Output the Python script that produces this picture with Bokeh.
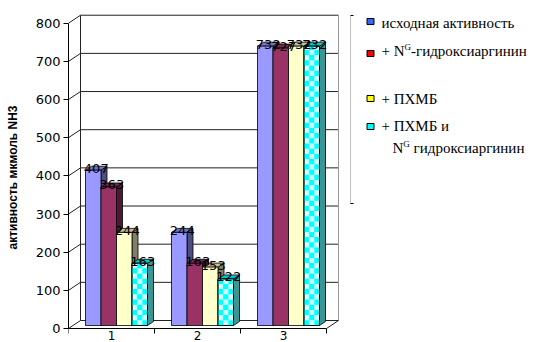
import math
from bokeh.plotting import figure
from bokeh.models import FixedTicker, Range1d
from bokeh.layouts import row
from bokeh.embed import file_html
from bokeh.resources import INLINE

# ---- data -------------------------------------------------------------
categories = ["1", "2", "3"]
initial_activity = [407, 244, 732]          # исходная активность
with_hydroxyarginine = [363, 163, 727]      # + NG-гидроксиаргинин
with_pcmb = [244, 153, 732]                 # + ПХМБ
with_pcmb_hydroxyarginine = [163, 122, 732] # + ПХМБ и NG гидроксиаргинин
y_ticks = [0, 100, 200, 300, 400, 500, 600, 700, 800]
y_axis_title = "активность мкмоль NH3"

series = [initial_activity, with_hydroxyarginine, with_pcmb, with_pcmb_hydroxyarginine]

# legend lines: (main text, superscript, text after superscript)
legend_lines = [
    [("исходная активность", "", "")],
    [("+ N", "G", "-гидроксиаргинин")],
    [("+ ПХМБ", "", "")],
    [("+ ПХМБ и", "", ""), ("N", "G", "гидроксиаргинин")],
]

# ---- styling -------------------------------------------------------------
front = ["#9999ff", "#993366", "#ffffcc", "#ccffff"]
top_face = ["#7373c0", "#73264d", "#c0c099", "#00c8c8"]
side_face = ["#4d4d80", "#4d1a33", "#80806a", "#3d9494"]
legend_swatch = ["#3366ff", "#ff0000", "#ffff00", "#00ffff"]
checker_color = "#00ffff"

NUM_FONT = "DejaVu Sans"
SERIF = "Liberation Serif"

# pixel scale of the plot frame
PX_X = 86.0       # px per category
PX_Y = 0.3816     # px per unit of activity
FRAME_W = 277
ZERO_PX, TOP_PX, H = 328, 12, 342   # canvas rows of value 0, frame top, canvas height

WALL_DX, WALL_DY = 12 / PX_X, 8 / PX_Y   # depth of the 3-D walls
BAR_W = 15.5 / PX_X
BAR_OX, BAR_OY = 5 / PX_X, 3 / PX_Y      # bars sit mid-depth
BAR_DX, BAR_DY = 6 / PX_X, 4 / PX_Y      # bar depth
CELL_PX = 5.2
TICK = 5 / PX_Y

p = figure(width=350, height=H,
           x_range=Range1d(0.5, 0.5 + FRAME_W / PX_X),
           y_range=Range1d(-(H - ZERO_PX) / PX_Y, (ZERO_PX - TOP_PX) / PX_Y),
           output_backend="svg", toolbar_location=None,
           x_axis_location=None,
           min_border_left=68, min_border_right=350 - 68 - FRAME_W,
           min_border_top=TOP_PX, min_border_bottom=0)
p.grid.visible = False
p.outline_line_color = None
p.background_fill_color = "white"
p.border_fill_color = "white"

# y axis (front edge)
ya = p.yaxis[0]
ya.ticker = FixedTicker(ticks=y_ticks)
ya.bounds = (y_ticks[0], y_ticks[-1])
ya.major_tick_out = 5
ya.major_tick_in = 0
ya.minor_tick_out = 0
ya.minor_tick_in = 0
ya.major_label_standoff = 3
ya.major_label_text_font = NUM_FONT
ya.major_label_text_font_size = "13px"
ya.major_label_text_color = "black"
ya.axis_line_color = "black"
ya.major_tick_line_color = "black"
ya.axis_label = y_axis_title
ya.axis_label_text_font = "Liberation Sans"
ya.axis_label_text_font_style = "bold"
ya.axis_label_text_font_size = "12px"
ya.axis_label_text_color = "black"
ya.axis_label_standoff = 13

# ---- category axis along the front floor edge --------------------------------
n_cat = len(categories)
x_left, x_right = 0.5, n_cat + 0.5
bounds = [i + 0.5 for i in range(n_cat + 1)]
p.segment(x0=[x_left] + bounds, y0=[0] + [0] * len(bounds),
          x1=[x_right] + bounds, y1=[0] + [-TICK] * len(bounds),
          line_color="black", line_width=1)
p.text(x=[i + 1 for i in range(n_cat)], y=[-(6.5 / PX_Y)] * n_cat, text=categories,
       text_align="center", text_baseline="middle",
       text_font={"value": NUM_FONT}, text_font_size="12px", text_color="black")

# ---- walls: back-wall grid, side-wall diagonals ----------------------------
p.segment(x0=[x_left + WALL_DX] * len(y_ticks), y0=[t + WALL_DY for t in y_ticks],
          x1=[x_right + WALL_DX] * len(y_ticks), y1=[t + WALL_DY for t in y_ticks],
          line_color="#222222", line_width=1)
p.segment(x0=[x_left] * len(y_ticks), y0=y_ticks,
          x1=[x_left + WALL_DX] * len(y_ticks), y1=[t + WALL_DY for t in y_ticks],
          line_color="#222222", line_width=1)
p.segment(x0=[x_left + WALL_DX, x_right + WALL_DX, x_right],
          y0=[y_ticks[0] + WALL_DY, y_ticks[0] + WALL_DY, y_ticks[0]],
          x1=[x_left + WALL_DX, x_right + WALL_DX, x_right + WALL_DX],
          y1=[y_ticks[-1] + WALL_DY, y_ticks[-1] + WALL_DY, y_ticks[0] + WALL_DY],
          line_color=["#222222", "#999999", "#222222"], line_width=1)

# ---- 3-D bars ---------------------------------------------------------------
def bar_left(g, s):
    return (g + 1) - 2 * BAR_W + s * BAR_W + BAR_OX

xs, ys, fills = [], [], []
for g in range(n_cat):
    for s, vals in enumerate(series):
        v = vals[g]
        x0 = bar_left(g, s)
        x1 = x0 + BAR_W
        b, t = BAR_OY, v + BAR_OY
        # side face
        xs.append([x1, x1 + BAR_DX, x1 + BAR_DX, x1])
        ys.append([b, b + BAR_DY, t + BAR_DY, t])
        fills.append(side_face[s])
        # top face
        xs.append([x0, x0 + BAR_DX, x1 + BAR_DX, x1])
        ys.append([t, t + BAR_DY, t + BAR_DY, t])
        fills.append(top_face[s])
        # front face
        xs.append([x0, x1, x1, x0])
        ys.append([b, b, t, t])
        fills.append(front[s])
p.patches(xs=xs, ys=ys, fill_color=fills, line_color="black", line_width=0.8)

# checker pattern on the last series
cl, cr, cb, ct = [], [], [], []
cell_w, cell_h = BAR_W / 3, CELL_PX / PX_Y
for g, v in enumerate(with_pcmb_hydroxyarginine):
    x0 = bar_left(g, 3)
    nrow = int(math.ceil(v / cell_h))
    for r in range(nrow):
        for c in range(3):
            if (r + c) % 2 == 0:
                cl.append(x0 + c * cell_w)
                cr.append(x0 + (c + 1) * cell_w)
                cb.append(BAR_OY + r * cell_h)
                ct.append(BAR_OY + min((r + 1) * cell_h, v))
p.quad(left=cl, right=cr, bottom=cb, top=ct, fill_color=checker_color, line_color=None)
p.quad(left=[bar_left(g, 3) for g in range(n_cat)],
       right=[bar_left(g, 3) + BAR_W for g in range(n_cat)],
       bottom=[BAR_OY] * n_cat,
       top=[v + BAR_OY for v in with_pcmb_hydroxyarginine],
       fill_color=None, line_color="black", line_width=0.8)

# value labels on the bar tops
lx, ly, lt = [], [], []
for g in range(n_cat):
    for s, vals in enumerate(series):
        lx.append(bar_left(g, s) + (BAR_W + BAR_DX) / 2)
        ly.append(vals[g] + BAR_OY + BAR_DY / 2)
        lt.append(str(vals[g]))
p.text(x=lx, y=ly, text=lt, text_align="center", text_baseline="middle",
       text_font={"value": NUM_FONT}, text_font_size="13px", text_color="black")

# ---- legend panel: its frame shares the chart's top/bottom, ranges in canvas px ----
lg = figure(width=191, height=H, x_range=Range1d(350, 541), y_range=Range1d(H, TOP_PX),
            output_backend="svg", toolbar_location=None,
            x_axis_location=None, y_axis_location=None,
            min_border=0, min_border_left=0, min_border_right=0,
            min_border_top=TOP_PX, min_border_bottom=0)
lg.grid.visible = False
lg.outline_line_color = None
lg.background_fill_color = "white"
lg.border_fill_color = "white"

lg.line(x=[353, 349.5, 349.5, 353], y=[15, 15, 203, 203], line_color="black", line_width=1)

swatch_y = [21, 53, 98, 126]
lg.rect(x=[370] * 4, y=swatch_y, width=7, height=6, fill_color=legend_swatch,
        line_color="black", line_width=1)

line_pos = [[(381, 22.5)], [(381, 50.5)], [(381, 98.7)], [(381, 125.3), (392, 147)]]
MAIN_PX, SUP_PX = 15, 9
char_w = {"+": 0.564, " ": 0.25, "N": 0.722}
tx, ty, tt, ts = [], [], [], []
for entry, positions in zip(legend_lines, line_pos):
    for (main, sup, rest), (x, y) in zip(entry, positions):
        tx.append(x); ty.append(y); tt.append(main); ts.append(f"{MAIN_PX}px")
        if sup:
            xm = x + sum(char_w.get(ch, 0.5) for ch in main) * MAIN_PX
            tx.append(xm); ty.append(y - 4); tt.append(sup); ts.append(f"{SUP_PX}px")
            xr = xm + 0.722 * SUP_PX + (0 if rest.startswith("-") else 0.25 * MAIN_PX)
            tx.append(xr); ty.append(y); tt.append(rest); ts.append(f"{MAIN_PX}px")
lg.text(x=tx, y=ty, text=tt, text_font={"value": SERIF}, text_font_size=ts,
        text_align="left", text_baseline="alphabetic", text_color="black")

layout = row(p, lg, spacing=0)
open("out.html", "w").write(file_html(layout, INLINE))
